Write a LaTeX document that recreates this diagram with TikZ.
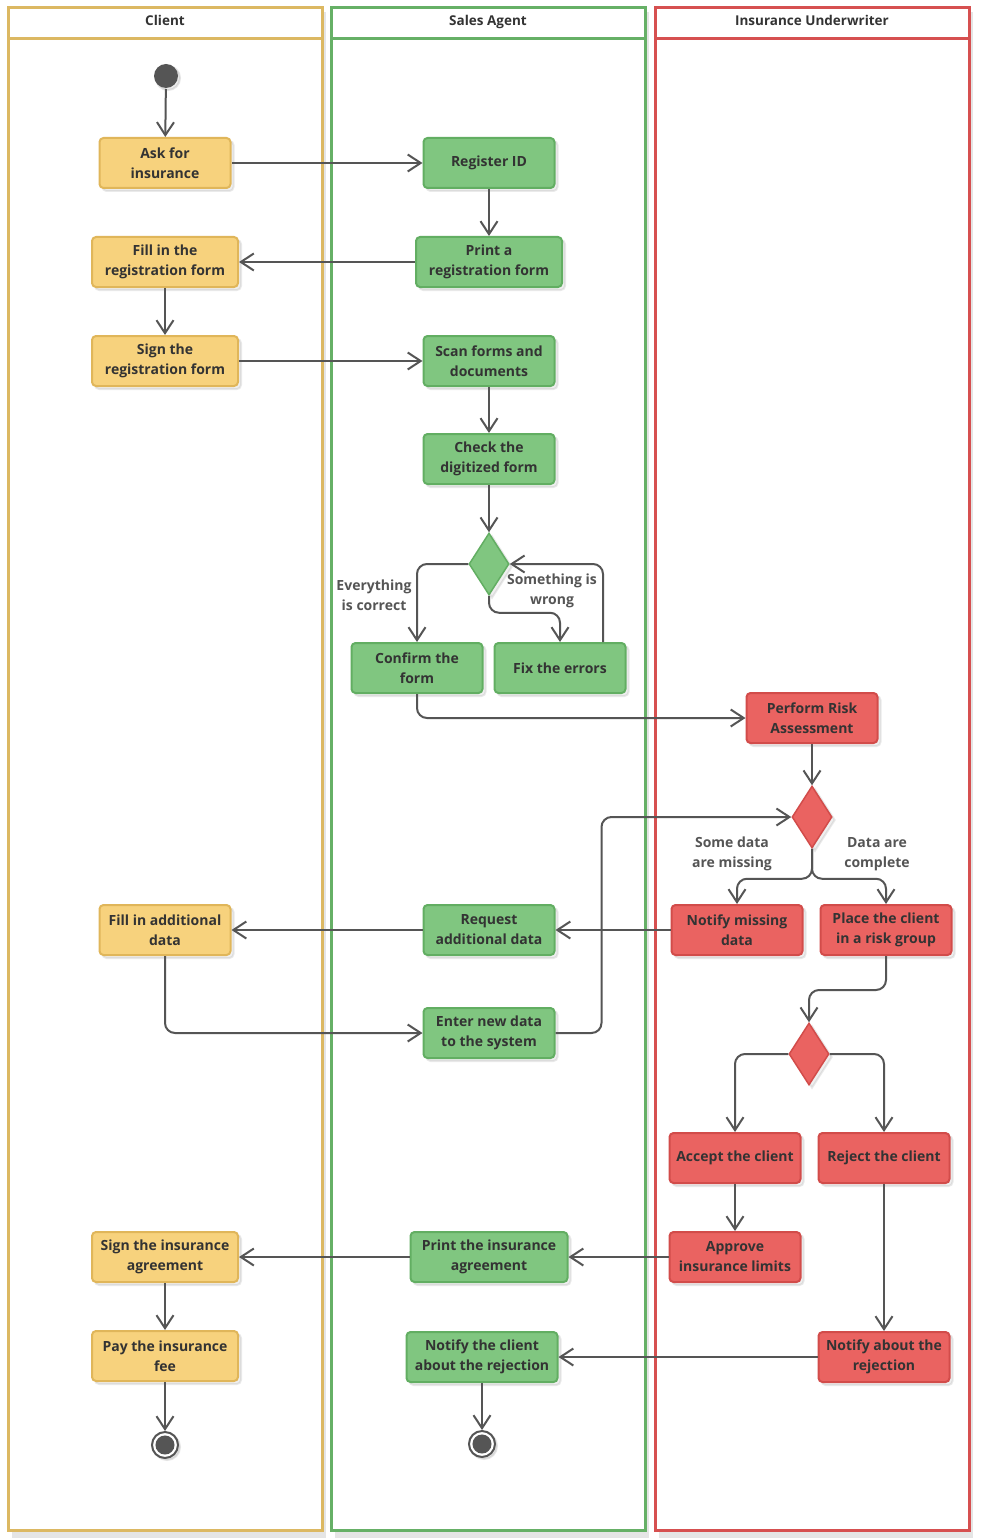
\documentclass[tikz,border=0pt]{standalone}
\usepackage{fontspec}
\setmainfont{Open Sans}
\usetikzlibrary{positioning,arrows.meta,shapes.geometric,shadows}

\definecolor{clientfill}{HTML}{F7D27D}
\definecolor{clientline}{HTML}{E0B65A}
\definecolor{agentfill}{HTML}{80C680}
\definecolor{agentline}{HTML}{62AE62}
\definecolor{writerfill}{HTML}{EA6361}
\definecolor{writerline}{HTML}{D24C4A}
\definecolor{lanegold}{HTML}{DCB862}
\definecolor{lanegreen}{HTML}{66B066}
\definecolor{lanered}{HTML}{D65050}
\definecolor{linegray}{HTML}{555555}
\definecolor{textgray}{HTML}{333333}

\begin{document}
\begin{tikzpicture}[x=1pt,y=-1pt]
\useasboundingbox (0,0) rectangle (980,1538);
\fill [white] (0,0) rectangle (980,1538);
% Swimlanes
\foreach \lx/\lcol/\ltitle in {8/lanegold/Client,331/lanegreen/Sales Agent,655/lanered/Insurance Underwriter} {
  \fill [black!10] (\lx+4,12) rectangle (\lx+318,1538);
  \draw [\lcol,line width=3pt,fill=white] (\lx,8) rectangle (\lx+314,1530);
  \draw [\lcol,line width=3pt] (\lx,39) -- (\lx+314,39);
  \node [anchor=base,font=\fontsize{13.5}{18}\selectfont\bfseries,text=textgray] at (\lx+157,26) {\ltitle};
}
% Draw Activity Diagram
   \begin{scope}[ node distance=99pt,on grid,
                   >={Straight Barb[length=13pt,width=17pt]},
                   every path/.style={line width=2pt,draw=linegray,rounded corners=10pt},
                   act/.style={rectangle,rounded corners=4pt,line width=2pt,minimum width=131pt,
                               minimum height=50pt,align=center,text=textgray,inner sep=2pt,
                               font=\fontsize{14}{20}\selectfont\bfseries,
                               drop shadow={shadow xshift=3pt,shadow yshift=-3pt,opacity=0.12}},
                   client/.style={act,fill=clientfill,draw=clientline},
                   agent/.style={act,fill=agentfill,draw=agentline},
                   writer/.style={act,fill=writerfill,draw=writerline},
                   wide/.style={minimum width=146pt},
                   choice/.style={diamond,sharp corners,inner sep=0pt,minimum width=40pt,minimum height=62pt,line width=1.5pt,
                               drop shadow={shadow xshift=3pt,shadow yshift=-3pt,opacity=0.12}},
                   guard/.style={align=center,text=linegray,font=\fontsize{14}{20}\selectfont\bfseries},
                   init/.style={circle,fill=linegray,minimum size=24pt,inner sep=0pt,
                               drop shadow={shadow xshift=2pt,shadow yshift=-2pt,opacity=0.15}},
                   final/.style={circle,draw=linegray,line width=2pt,fill=white,minimum size=26pt,inner sep=0pt,
                               drop shadow={shadow xshift=2pt,shadow yshift=-2pt,opacity=0.15},
                               path picture={\fill [linegray] (path picture bounding box.center) circle (8.5pt);}} ]
     \node [init]          (start)    at (166,76)               {};
     \node [client]        (ask)      at (165,163)              {Ask for\\insurance} edge [<-] (start);
     \node [agent]         (regid)    [right=324pt of ask]       {Register ID} edge [<-] (ask);
     \node [agent,wide]    (printreg) [below=of regid]           {Print a\\registration form} edge [<-] (regid);
     \node [client,wide]   (fillreg)  [below=of ask]             {Fill in the\\registration form} edge [<-] (printreg);
     \node [client,wide]   (signreg)  [below=of fillreg]         {Sign the\\registration form} edge [<-] (fillreg);
     \node [agent]         (scan)     [below=of printreg]        {Scan forms and\\documents} edge [<-] (signreg);
     \node [agent]         (check)    [below=98pt of scan]       {Check the\\digitized form} edge [<-] (scan);
     \node [choice,fill=agentfill,draw=agentline] (dec1) [below=105pt of check] {} edge [<-] (check);
     \node [agent]         (confirm)  [below left=104pt and 72pt of dec1] {Confirm the\\form};
     \node [agent]         (fix)      [right=143pt of confirm]   {Fix the errors};
     \draw [->] (dec1.west) -| (confirm.north);
     \draw [->] (dec1.south) -- ++(0,17) -| (fix.north);
     \draw [->] ([xshift=43pt]fix.north) |- (dec1.east);
     \node [guard] (okay)  at (374,595) {Everything\\is correct};
     \node [guard] (wrong) at (552,591) {Something is\\wrong};
     \node [writer]        (risk)     at (812,718)              {Perform Risk\\Assessment};
     \draw [->] (confirm.south) |- (risk.west);
     \node [choice,fill=writerfill,draw=writerline] (dec2) [below=of risk] {} edge [<-] (risk);
     \node [writer]        (missing)  [below left=113pt and 75pt of dec2] {Notify missing\\data};
     \node [writer]        (place)    [right=149pt of missing]   {Place the client\\in a risk group};
     \draw [->] (dec2.south) -- ++(0,30) -| (missing.north);
     \draw [->] (dec2.south) -- ++(0,30) -| (place.north);
     \node [guard] (lack) at (732,854) {Some data\\are missing};
     \node [guard] (full) at (877,854) {Data are\\complete};
     \node [agent]         (request)  [left=248pt of missing]    {Request\\additional data} edge [<-] (missing);
     \node [client]        (filladd)  [left=324pt of request]    {Fill in additional\\data} edge [<-] (request);
     \node [agent]         (enter)    [below=103pt of request]   {Enter new data\\to the system};
     \draw [->] (filladd.south) |- (enter.west);
     \draw [->] (enter.east) -- ++(46,0) |- (dec2.west);
     \node [choice,fill=writerfill,draw=writerline] (dec3) at (809,1054) {};
     \draw [->] (place.south) -- ++(0,34) -| (dec3.north);
     \node [writer]        (accept)   [below left=104pt and 74pt of dec3] {Accept the client};
     \node [writer]        (reject)   [right=149pt of accept]    {Reject the client};
     \draw [->] (dec3.west) -| (accept.north);
     \draw [->] (dec3.east) -| (reject.north);
     \node [writer]        (approve)  [below=of accept]          {Approve\\insurance limits} edge [<-] (accept);
     \node [agent,minimum width=157pt] (printagr) [left=246pt of approve] {Print the insurance\\agreement} edge [<-] (approve);
     \node [client,wide]   (signagr)  [left=324pt of printagr]   {Sign the insurance\\agreement} edge [<-] (printagr);
     \node [client,wide]   (pay)      [below=of signagr]         {Pay the insurance\\fee} edge [<-] (signagr);
     \node [final]         (end1)     [below=89pt of pay]        {} edge [<-] (pay);
     \node [writer]        (notifyrej) [below=199pt of reject]   {Notify about the\\rejection} edge [<-] (reject);
     \node [agent,minimum width=151pt] (notifycl) [left=402pt of notifyrej] {Notify the client\\about the rejection} edge [<-] (notifyrej);
     \node [final]         (end2)     [below=87pt of notifycl]   {} edge [<-] (notifycl);
   \end{scope}
\end{tikzpicture}
\end{document}
